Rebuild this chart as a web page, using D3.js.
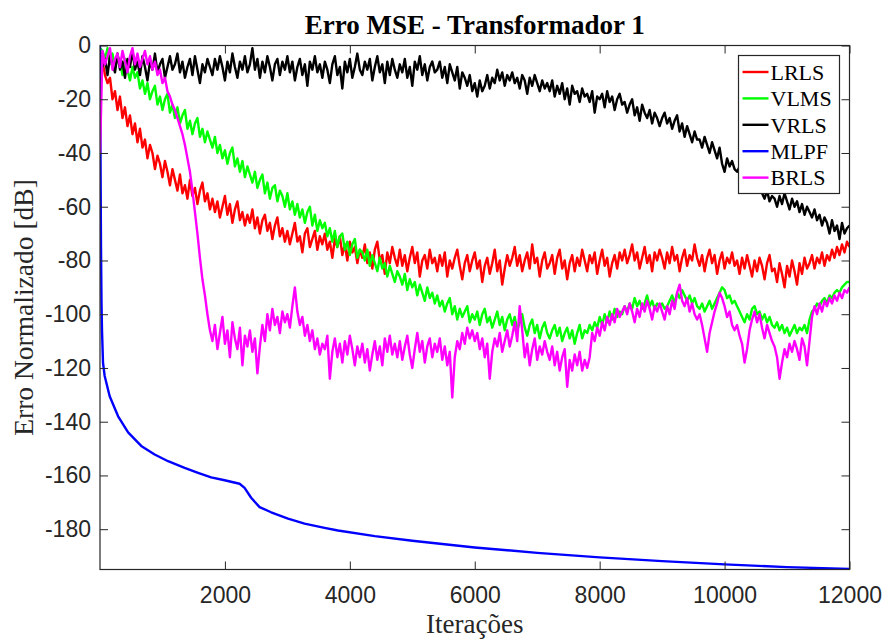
<!DOCTYPE html>
<html>
<head>
<meta charset="utf-8">
<script src="https://cdn.jsdelivr.net/npm/d3@7"></script>
<style>
  body { margin: 0; background: #fff; }
  svg { display: block; }
</style>
</head>
<body>
<svg id="chart" width="887" height="639"></svg>
<script>
// Normalised MSE (dB) per algorithm, one value every `iterStep` iterations (0 … 12000)
const iterStep = 40;

const lrls = [
  -1, -6, -11, -14, -12, -20, -17, -24, -19, -27, -23, -30, -26, -33, -29,
  -36, -31, -38, -35, -42, -37, -40, -46, -41, -44, -49, -43, -47, -52, -46,
  -50, -54, -48, -55, -52, -57, -50, -56, -53, -59, -54, -51, -58, -55, -61,
  -57, -62, -58, -64, -60, -56, -63, -59, -66, -61, -58, -65, -62, -67, -63,
  -66, -61, -68, -64, -70, -65, -63, -69, -66, -72, -67, -64, -71, -68, -73,
  -69, -74, -70, -66, -73, -71, -77, -70, -68, -75, -72, -69, -76, -71, -74,
  -70, -76, -73, -79, -72, -75, -71, -78, -74, -80, -73, -77, -75, -81, -76,
  -79, -74, -81, -77, -83, -76, -73, -80, -78, -85, -77, -81, -75, -79, -82,
  -76, -82, -78, -84, -79, -75, -81, -77, -86, -80, -78, -83, -76, -81, -79,
  -84, -78, -82, -77, -86, -80, -83, -79, -76, -82, -87, -81, -78, -84, -80,
  -77, -83, -80, -88, -82, -79, -85, -81, -76, -84, -80, -89, -83, -78, -82,
  -79, -75, -82, -78, -84, -80, -77, -83, -74, -81, -79, -86, -80, -77, -83,
  -81, -78, -85, -79, -76, -83, -80, -87, -81, -78, -84, -79, -82, -76, -80,
  -84, -78, -81, -77, -85, -80, -76, -82, -79, -86, -81, -78, -83, -77, -80,
  -76, -81, -78, -74, -80, -77, -83, -79, -75, -81, -78, -84, -77, -80, -76,
  -79, -83, -77, -81, -75, -80, -78, -84, -79, -76, -82, -78, -80, -74, -79,
  -82, -78, -84, -79, -76, -81, -78, -85, -80, -77, -83, -79, -81, -77, -82,
  -80, -85, -79, -83, -78, -82, -86, -80, -84, -79, -82, -87, -81, -78, -84,
  -83, -88, -81, -85, -90, -82, -86, -80, -84, -89, -81, -85, -79, -83, -81,
  -78, -83, -79, -81, -77, -82, -78, -80, -76, -79, -75, -78, -74, -77, -73,
  -75
];

const vlms = [
  -1, -2, -5, -1, -7, -3, -9, -4, -6, -11, -5, -9, -13, -8, -12,
  -10, -16, -13, -18, -14, -20, -17, -15, -22, -19, -24, -20, -18, -25, -22,
  -27, -23, -29, -26, -24, -31, -28, -33, -29, -27, -34, -31, -36, -32, -35,
  -38, -34, -40, -37, -42, -39, -44, -40, -38, -45, -42, -47, -43, -49, -45,
  -48, -51, -47, -53, -50, -48, -55, -51, -57, -53, -52, -58, -54, -56, -60,
  -55, -61, -58, -63, -59, -64, -61, -66, -62, -60, -67, -63, -69, -65, -68,
  -66, -71, -68, -73, -69, -75, -71, -70, -76, -73, -78, -74, -72, -79, -76,
  -77, -80, -76, -82, -78, -81, -84, -79, -83, -81, -86, -82, -85, -88, -84,
  -86, -89, -85, -91, -87, -90, -88, -93, -89, -92, -95, -90, -94, -92, -96,
  -93, -97, -95, -99, -96, -94, -100, -97, -102, -98, -101, -99, -97, -103, -100,
  -102, -99, -104, -100, -98, -103, -101, -105, -102, -99, -104, -101, -106, -102, -100,
  -104, -101, -106, -103, -100, -105, -108, -104, -102, -107, -104, -109, -105, -103, -107,
  -109, -106, -104, -108, -105, -110, -107, -105, -109, -106, -111, -107, -104, -109, -106,
  -107, -104, -106, -103, -105, -101, -104, -100, -103, -99, -102, -98, -101, -99, -100,
  -97, -99, -96, -98, -94, -97, -95, -98, -96, -93, -97, -95, -98, -96, -97,
  -96, -98, -97, -95, -93, -96, -92, -94, -91, -93, -95, -93, -96, -94, -97,
  -98, -96, -99, -97, -95, -98, -96, -94, -92, -90, -91, -94, -93, -96, -95,
  -97, -99, -101, -103, -100, -102, -98, -97, -100, -99, -102, -100, -103, -101, -104,
  -105, -103, -106, -104, -107, -105, -108, -106, -104, -107, -105, -106, -104, -107, -102,
  -99, -98, -96, -97, -95, -94, -96, -93, -94, -92, -91, -92, -90, -89, -88,
  -88
];

const vrls = [
  -3, -8, -5, -11, -4, -7, -10, -3, -9, -6, -12, -5, -8, -2, -9,
  -6, -11, -4, -8, -13, -6, -9, -3, -10, -7, -5, -12, -8, -4, -9,
  -7, -3, -10, -6, -12, -8, -5, -11, -4, -9, -14, -7, -10, -5, -8,
  -11, -5, -9, -4, -8, -13, -6, -10, -3, -8, -12, -6, -9, -4, -10,
  -7, -1, -9, -5, -12, -6, -10, -4, -8, -13, -7, -5, -11, -6, -9,
  -4, -10, -6, -13, -8, -5, -11, -7, -15, -6, -9, -4, -10, -7, -12,
  -6, -9, -14, -7, -4, -11, -8, -16, -6, -10, -5, -12, -8, -3, -9,
  -11, -6, -9, -5, -13, -8, -4, -10, -7, -14, -6, -11, -5, -9, -12,
  -7, -10, -5, -12, -8, -15, -6, -9, -4, -11, -7, -13, -8, -6, -10,
  -9, -6, -12, -8, -14, -7, -10, -13, -8, -16, -10, -12, -15, -11, -17,
  -14, -19, -13, -17, -15, -11, -16, -12, -14, -9, -13, -10, -15, -11, -13,
  -10, -14, -12, -16, -11, -13, -18, -12, -15, -11, -14, -17, -13, -16, -14,
  -17, -13, -19, -15, -18, -14, -20, -16, -22, -15, -18, -17, -21, -16, -19,
  -18, -21, -17, -25, -19, -20, -18, -23, -17, -21, -19, -24, -20, -18, -22,
  -21, -25, -22, -20, -26, -23, -28, -22, -25, -27, -24, -29, -25, -27, -30,
  -27, -25, -29, -27, -31, -28, -26, -32, -29, -34, -30, -33, -36, -32, -35,
  -35, -38, -34, -37, -40, -36, -39, -42, -38, -44, -47, -42, -45, -43, -46,
  -47, -45, -49, -48, -51, -50, -53, -51, -54, -52, -55, -57, -54, -58, -56,
  -57, -60, -56, -59, -55, -58, -61, -57, -60, -58, -62, -59, -63, -60, -62,
  -64, -61, -65, -63, -67, -64, -66, -70, -65, -69, -67, -72, -66, -70, -68,
  -67
];

const brls = [
  -40, -2, -7, -4, -1, -9, -5, -3, -8, -2, -6, -10, -4, -1, -7,
  -3, -8, -5, -2, -7, -4, -9, -6, -11, -9, -14, -12, -17, -19, -22,
  -24, -27, -30, -33, -37, -42, -47, -54, -62, -70, -79, -87, -93, -100, -106,
  -110, -104, -113, -107, -101, -111, -106, -116, -103, -109, -113, -105, -119, -108, -112,
  -106, -114, -109, -122, -112, -104, -110, -100, -106, -98, -104, -101, -107, -99, -103,
  -100, -105, -97, -90, -99, -104, -101, -108, -104, -110, -106, -113, -109, -115, -111,
  -113, -108, -124, -114, -109, -116, -111, -118, -110, -115, -108, -113, -119, -112, -116,
  -111, -118, -113, -121, -115, -110, -117, -112, -119, -109, -114, -108, -115, -111, -116,
  -110, -117, -112, -108, -115, -120, -113, -107, -114, -110, -118, -112, -109, -116, -111,
  -114, -109, -117, -112, -119, -114, -131, -116, -110, -113, -107, -111, -105, -109, -106,
  -110, -107, -113, -109, -116, -111, -124, -114, -109, -112, -107, -114, -110, -106, -112,
  -108, -103, -110, -97, -106, -116, -111, -119, -113, -109, -117, -112, -115, -110, -114,
  -117, -112, -119, -114, -121, -116, -113, -127, -117, -121, -115, -119, -114, -121, -117,
  -120, -116, -107, -110, -105, -108, -103, -106, -101, -104, -100, -103, -98, -101, -99,
  -97, -100, -96, -99, -103, -98, -101, -96, -99, -95, -98, -102, -97, -99, -96,
  -99, -102, -97, -100, -95, -98, -92, -89, -95, -97, -94, -99, -96, -100, -102,
  -100, -104, -109, -114, -107, -103, -99, -96, -92, -94, -97, -101, -99, -104, -106,
  -104, -108, -111, -118, -113, -106, -102, -99, -103, -100, -105, -109, -104, -107, -110,
  -112, -116, -124, -118, -113, -116, -111, -114, -110, -113, -117, -109, -112, -119, -110,
  -101, -97, -100, -96, -99, -95, -97, -94, -96, -93, -95, -92, -94, -91, -92,
  -90
];

// MLPF is smooth: (iteration, dB) pairs
const mlpfIter = [0, 8, 16, 24, 32, 48, 75, 155, 290, 450, 660, 875, 1090, 1355, 1570, 1780,
  1995, 2235, 2315, 2420, 2555, 2740, 3010, 3275, 3595, 3810, 4400, 5000, 6000, 7000, 8000,
  9000, 10000, 11000, 12000];
const mlpfDb = [0, -40, -75, -96, -106, -118, -123, -130.5, -138, -144, -149, -152.2, -154.7,
  -157.2, -159, -160.7, -161.8, -163.1, -164.6, -168.3, -171.8, -173.7, -176.1, -177.9, -179.5,
  -180.5, -182.6, -184.3, -186.8, -188.8, -190.5, -191.9, -193.1, -194.1, -194.8];

const xTicks = [2000, 4000, 6000, 8000, 10000, 12000];
const yTicks = [0, -20, -40, -60, -80, -100, -120, -140, -160, -180];

const seriesNames = ["LRLS", "VLMS", "VRLS", "MLPF", "BRLS"];
const seriesColors = ["#ff0000", "#00ff00", "#000000", "#0000ff", "#ff00ff"];

const titleText = "Erro MSE - Transformador 1";
const xLabelText = "Iterações";
const yLabelText = "Erro Normalizado [dB]";

// ---- layout ----
const plot = { left: 100, right: 849.5, top: 45.5, bottom: 569.5 };
const axisColor = "#262626";
const serif = "'Liberation Serif', 'Times New Roman', serif";
const sans = "'Liberation Sans', Arial, Helvetica, sans-serif";

const svg = d3.select("#chart");

const x = d3.scaleLinear().domain([0, 12000]).range([plot.left, plot.right]);
const y = d3.scaleLinear().domain([-195, 0]).range([plot.bottom, plot.top]);

svg.append("defs").append("clipPath").attr("id", "plotClip")
  .append("rect")
  .attr("x", plot.left).attr("y", plot.top)
  .attr("width", plot.right - plot.left).attr("height", plot.bottom - plot.top);

// ---- series ----
const lineGen = d3.line().x(d => x(d[0])).y(d => y(d[1]));
const stepped = arr => arr.map((v, i) => [i * iterStep, v]);

const seriesData = [
  stepped(lrls),
  stepped(vlms),
  stepped(vrls),
  mlpfIter.map((it, i) => [it, mlpfDb[i]]),
  stepped(brls)
];

const lines = svg.append("g").attr("clip-path", "url(#plotClip)");
seriesData.forEach((data, k) => {
  lines.append("path")
    .datum(data)
    .attr("fill", "none")
    .attr("stroke", seriesColors[k])
    .attr("stroke-width", 2.4)
    .attr("stroke-linejoin", "round")
    .attr("d", lineGen);
});

// ---- axes (box with inward ticks on all four sides) ----
const tickLen = 8;
function styleAxis(g) {
  g.select(".domain").remove();
  g.selectAll(".tick line").attr("stroke", axisColor).attr("stroke-width", 1);
  g.selectAll(".tick text")
    .attr("fill", axisColor)
    .style("font-family", sans)
    .style("font-size", "23px");
}

svg.append("g")
  .attr("transform", `translate(0,${plot.bottom})`)
  .call(d3.axisBottom(x).tickValues(xTicks).tickSizeInner(-tickLen).tickSizeOuter(0)
    .tickPadding(17).tickFormat(d => String(d)))
  .call(styleAxis);

svg.append("g")
  .attr("transform", `translate(0,${plot.top})`)
  .call(d3.axisTop(x).tickValues(xTicks).tickSizeInner(-tickLen).tickSizeOuter(0)
    .tickFormat(() => ""))
  .call(styleAxis);

svg.append("g")
  .attr("transform", `translate(${plot.left},0)`)
  .call(d3.axisLeft(y).tickValues(yTicks).tickSizeInner(-tickLen).tickSizeOuter(0)
    .tickPadding(9).tickFormat(d => String(d)))
  .call(styleAxis);

svg.append("g")
  .attr("transform", `translate(${plot.right},0)`)
  .call(d3.axisRight(y).tickValues(yTicks).tickSizeInner(-tickLen).tickSizeOuter(0)
    .tickFormat(() => ""))
  .call(styleAxis);

svg.append("rect")
  .attr("x", plot.left).attr("y", plot.top)
  .attr("width", plot.right - plot.left).attr("height", plot.bottom - plot.top)
  .attr("fill", "none").attr("stroke", axisColor).attr("stroke-width", 1.2);

// ---- titles ----
const cx = (plot.left + plot.right) / 2;
svg.append("text")
  .attr("x", cx).attr("y", 34)
  .attr("text-anchor", "middle")
  .style("font-family", serif).style("font-weight", "bold").style("font-size", "27px")
  .attr("fill", "#000")
  .text(titleText);

svg.append("text")
  .attr("x", cx).attr("y", 633)
  .attr("text-anchor", "middle")
  .style("font-family", serif).style("font-size", "27px")
  .attr("fill", axisColor)
  .text(xLabelText);

svg.append("text")
  .attr("transform", `translate(33,${(plot.top + plot.bottom) / 2}) rotate(-90)`)
  .attr("text-anchor", "middle")
  .style("font-family", serif).style("font-size", "27.5px")
  .attr("fill", axisColor)
  .text(yLabelText);

// ---- legend ----
const legend = { x: 738.5, y: 55.5, w: 101, h: 138, rowStart: 72, rowGap: 26.4 };
const lg = svg.append("g");
lg.append("rect")
  .attr("x", legend.x).attr("y", legend.y)
  .attr("width", legend.w).attr("height", legend.h)
  .attr("fill", "#fff").attr("stroke", axisColor).attr("stroke-width", 1.2);

seriesNames.forEach((name, k) => {
  const ry = legend.rowStart + k * legend.rowGap;
  lg.append("line")
    .attr("x1", legend.x + 4).attr("x2", legend.x + 30)
    .attr("y1", ry).attr("y2", ry)
    .attr("stroke", seriesColors[k]).attr("stroke-width", 2.4);
  lg.append("text")
    .attr("x", legend.x + 32).attr("y", ry)
    .attr("dy", "0.35em")
    .style("font-family", serif).style("font-size", "22px")
    .attr("fill", "#000")
    .text(name);
});
</script>
</body>
</html>
